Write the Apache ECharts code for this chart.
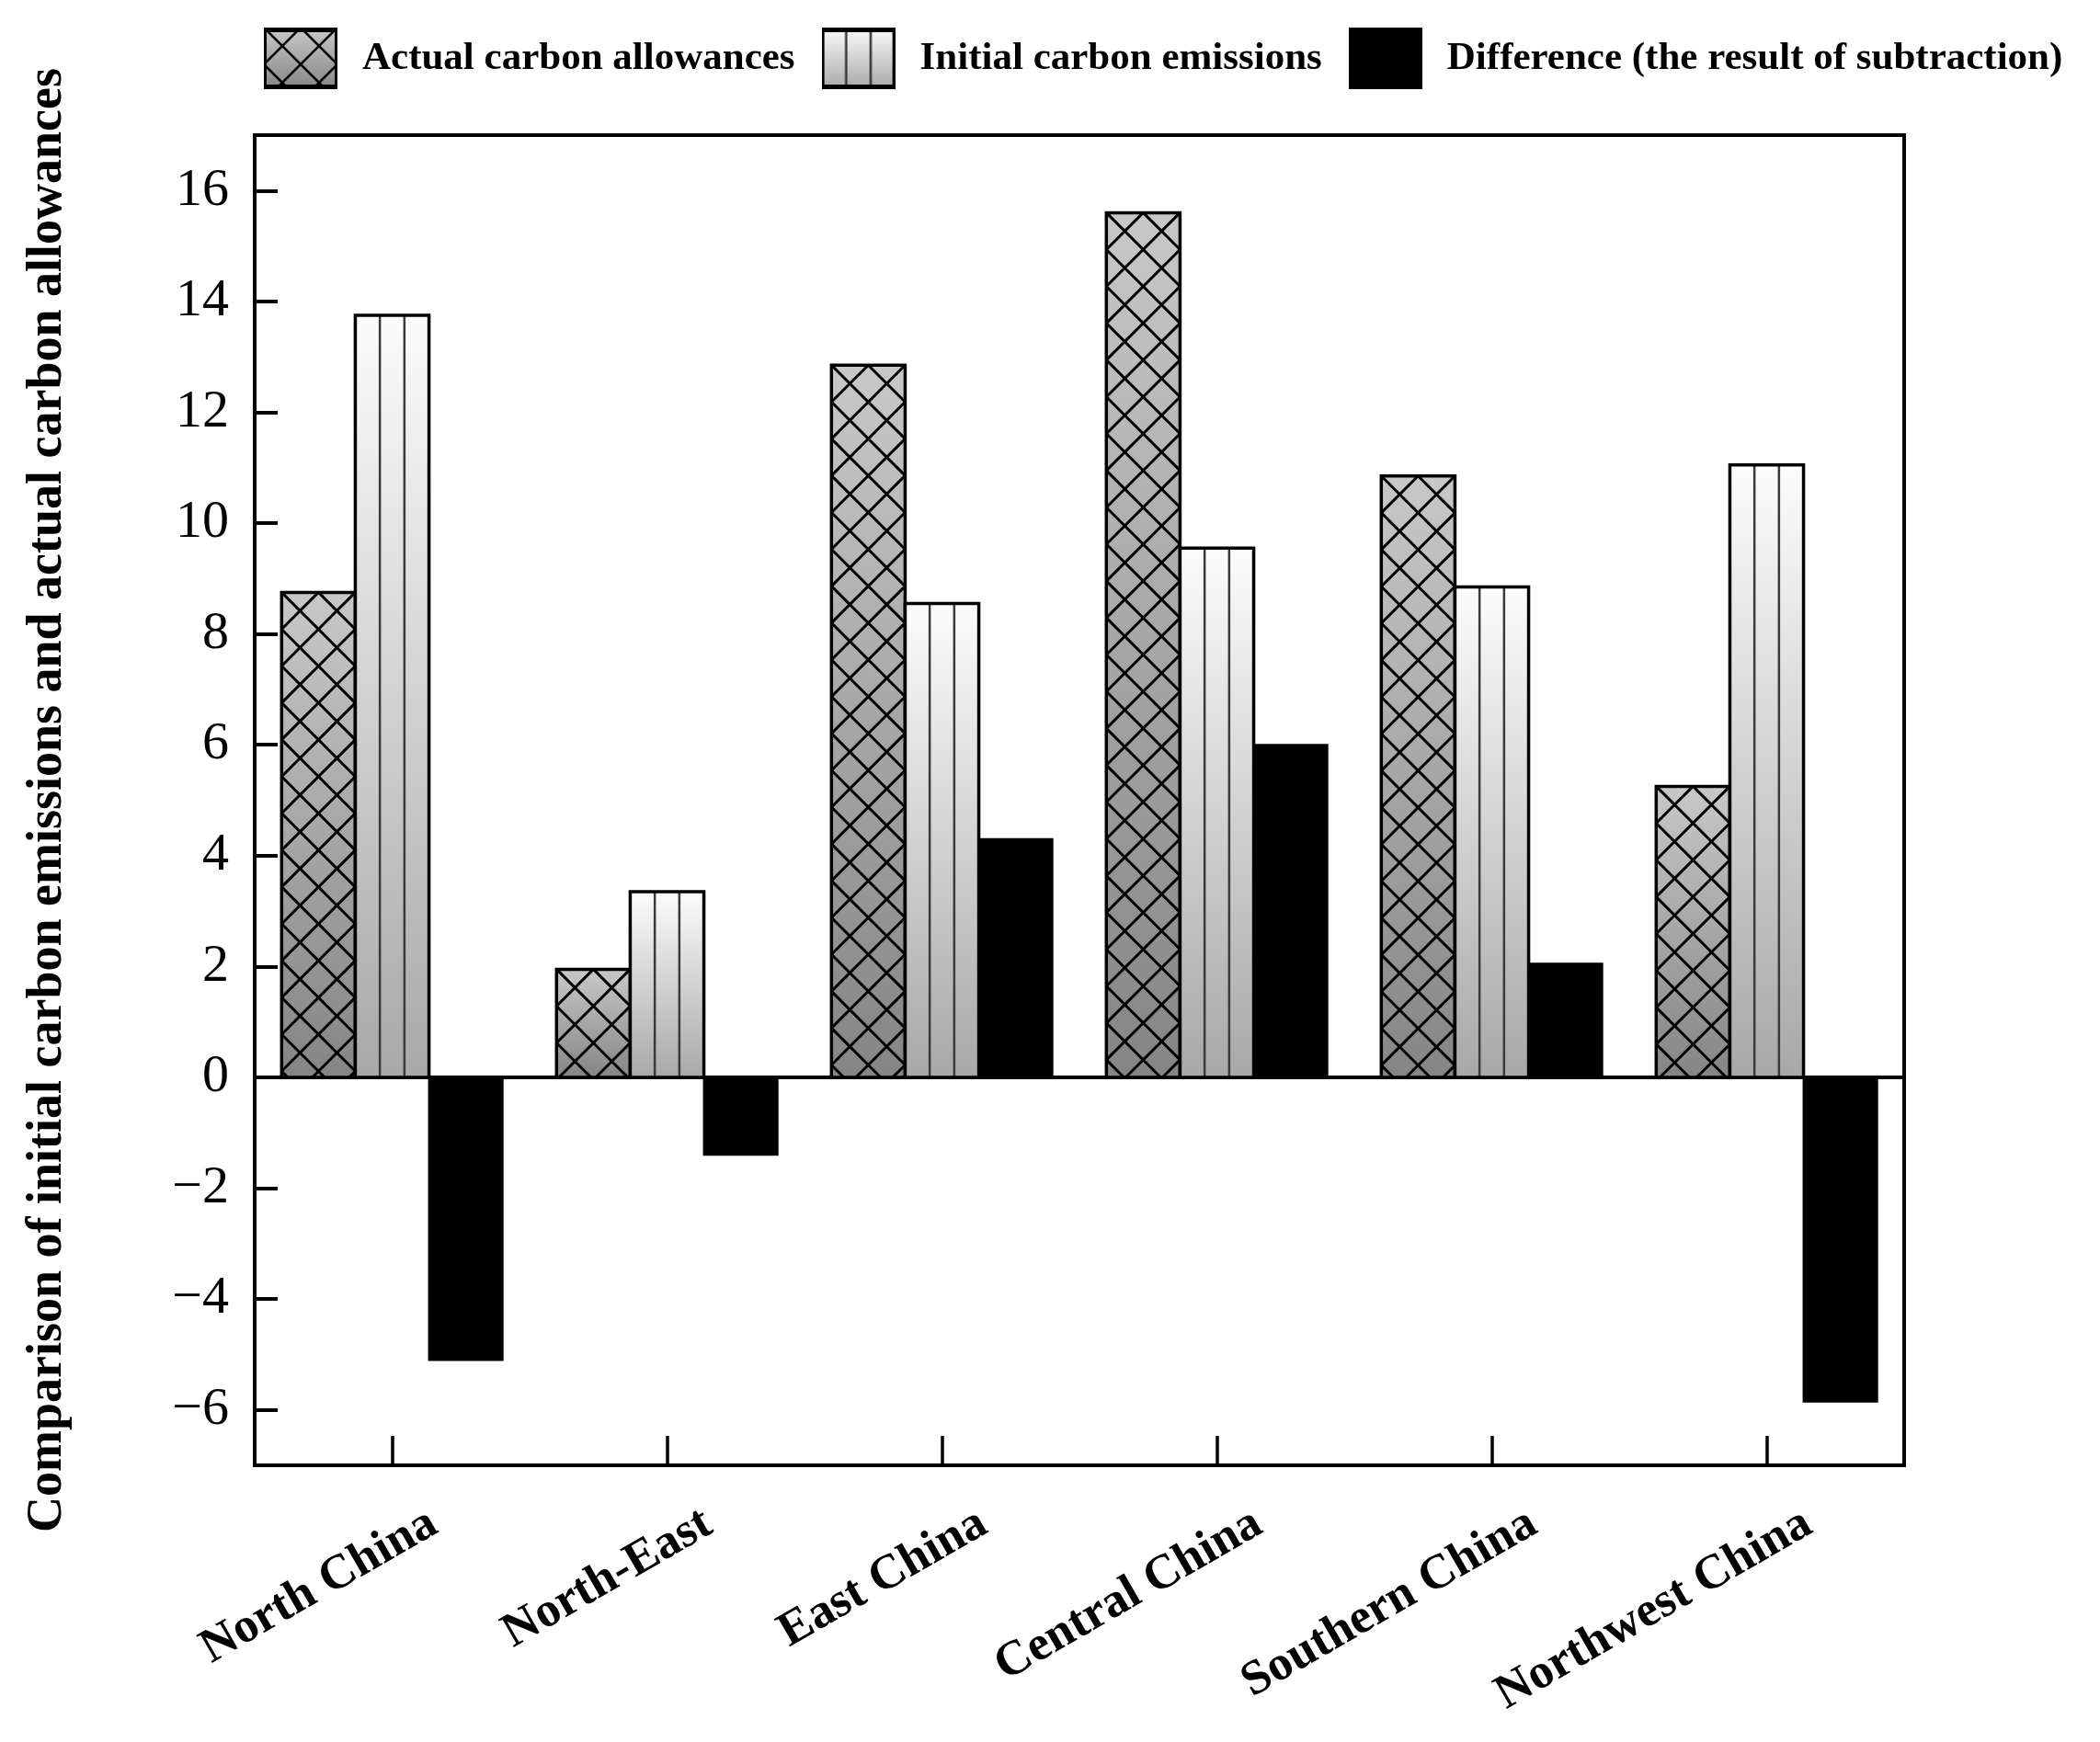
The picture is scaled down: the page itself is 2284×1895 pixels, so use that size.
<!DOCTYPE html>
<html>
<head>
<meta charset="utf-8">
<script src="https://cdn.jsdelivr.net/npm/echarts@6/dist/echarts.min.js"></script>
<style>
html,body{margin:0;padding:0;background:#fff;}
#chart{width:2284px;height:1895px;}
</style>
</head>
<body>
<div id="chart"></div>
<script>
// ---- data ----
const categories = ['North China', 'North-East', 'East China', 'Central China', 'Southern China', 'Northwest China'];
const actualAllowances = [8.75, 1.95, 12.85, 15.6, 10.85, 5.25];
const initialEmissions = [13.75, 3.35, 8.55, 9.55, 8.85, 11.05];
const differenceValues = [-5.1, -1.4, 4.3, 6.0, 2.05, -5.85];
const yTickValues = [-6, -4, -2, 0, 2, 4, 6, 8, 10, 12, 14, 16];
const seriesNames = ['Actual carbon allowances', 'Initial carbon emissions', 'Difference (the result of subtraction)'];
const yTitle = 'Comparison of initial carbon emissions and actual carbon allowances';

// ---- styles ----
const HATCH_TOP = '#c8c8c8', HATCH_BOTTOM = '#858585';
const LINES_TOP = '#fcfcfc', LINES_BOTTOM = '#a8a8a8';
const BAR_RATIO = 0.268;

function hatchSegments(x0, x1, yT, yB, d, cx) {
  const segs = [];
  const h = yB - yT;
  const kmax = Math.ceil((h + (x1 - x0)) / d) + 2;
  for (let k = -kmax; k <= kmax; k++) {
    const a = cx + k * d;
    let t0 = Math.max(0, x0 - a), t1 = Math.min(h, x1 - a);
    if (t1 > t0) segs.push([a + t0, yT + t0, a + t1, yT + t1]);
    t0 = Math.max(0, a - x1); t1 = Math.min(h, a - x0);
    if (t1 > t0) segs.push([a - t0, yT + t0, a - t1, yT + t1]);
  }
  return segs;
}

function makeIcon(kind) {
  const W = 80, H = 67;
  const c = document.createElement('canvas');
  c.width = W; c.height = H;
  const ctx = c.getContext('2d');
  if (kind === 2) {
    ctx.fillStyle = '#000'; ctx.fillRect(0, 0, W, H);
    return c.toDataURL();
  }
  const g = ctx.createLinearGradient(0, 0, 0, H);
  g.addColorStop(0, kind === 0 ? HATCH_TOP : LINES_TOP);
  g.addColorStop(1, kind === 0 ? HATCH_BOTTOM : LINES_BOTTOM);
  ctx.fillStyle = g; ctx.fillRect(0, 0, W, H);
  ctx.strokeStyle = '#000';
  if (kind === 0) {
    ctx.lineWidth = 2.5;
    hatchSegments(0, W, 0, H, W / 2, W / 2).forEach(s => {
      ctx.beginPath(); ctx.moveTo(s[0], s[1]); ctx.lineTo(s[2], s[3]); ctx.stroke();
    });
  } else {
    ctx.lineWidth = 2.5; ctx.strokeStyle = '#333';
    [W / 3, 2 * W / 3].forEach(x => { ctx.beginPath(); ctx.moveTo(x, 0); ctx.lineTo(x, H); ctx.stroke(); });
  }
  ctx.strokeStyle = '#000';
  ctx.lineWidth = 3;
  ctx.strokeRect(1.5, 1.5, W - 3, H - 3);
  ctx.fillStyle = '#000';
  ctx.fillRect(0, 0, W, 5); ctx.fillRect(0, H - 5, W, 5);
  return c.toDataURL();
}

function makeRender(slot) {
  return function (params, api) {
    const idx = api.value(0);
    const val = api.value(1);
    const base = api.coord([idx, 0]);
    const tip = api.coord([idx, val]);
    const band = api.size([1, 0])[0];
    const w = band * BAR_RATIO;
    const x0 = base[0] - 1.5 * w + slot * w;
    const x1 = x0 + w;
    const yT = Math.min(base[1], tip[1]);
    const yB = Math.max(base[1], tip[1]);
    const h = yB - yT;
    const children = [];
    if (slot === 2) {
      children.push({ type: 'rect', shape: { x: x0, y: yT, width: w, height: h }, style: { fill: '#000', stroke: '#000', lineWidth: 2 } });
      return { type: 'group', children: children };
    }
    const grad = new echarts.graphic.LinearGradient(0, 0, 0, 1, [
      { offset: 0, color: slot === 0 ? HATCH_TOP : LINES_TOP },
      { offset: 1, color: slot === 0 ? HATCH_BOTTOM : LINES_BOTTOM }
    ]);
    children.push({ type: 'rect', shape: { x: x0, y: yT, width: w, height: h }, style: { fill: grad } });
    if (slot === 0) {
      hatchSegments(x0, x1, yT, yB, w / 2, (x0 + x1) / 2).forEach(s => {
        children.push({ type: 'line', shape: { x1: s[0], y1: s[1], x2: s[2], y2: s[3] }, style: { stroke: '#000', lineWidth: 3 } });
      });
    } else {
      [x0 + w / 3, x0 + 2 * w / 3].forEach(x => {
        children.push({ type: 'line', shape: { x1: x, y1: yT, x2: x, y2: yB }, style: { stroke: '#3a3a3a', lineWidth: 2.5 } });
      });
    }
    children.push({ type: 'rect', shape: { x: x0, y: yT, width: w, height: h }, style: { fill: 'none', stroke: '#000', lineWidth: 3.5 } });
    return { type: 'group', children: children };
  };
}

const chart = echarts.init(document.getElementById('chart'), null, { renderer: 'canvas' });
const serifFont = '"Liberation Serif", "Times New Roman", serif';
const allSeries = [actualAllowances, initialEmissions, differenceValues];

const option = {
  backgroundColor: '#fff',
  animation: false,
  legend: {
    left: 287, top: 30, width: 1995, padding: 0,
    itemWidth: 80, itemHeight: 67, itemGap: 29,
    textStyle: { fontFamily: serifFont, fontWeight: 'bold', fontSize: 43, color: '#000', padding: [0, 0, 0, 22] },
    data: seriesNames.map((n, i) => ({ name: n, icon: 'image://' + makeIcon(i) }))
  },
  grid: { left: 277, right: 213, top: 147, bottom: 301, show: true, borderColor: '#000', borderWidth: 4, containLabel: false },
  xAxis: [
    {
      type: 'category', data: categories, position: 'bottom',
      axisLine: { onZero: false, lineStyle: { color: '#000', width: 4 } },
      axisTick: { show: true, inside: true, alignWithLabel: true, length: 32, lineStyle: { color: '#000', width: 3.5 } },
      axisLabel: { rotate: 30, margin: 86, padding: [0, -52, 0, 0], fontFamily: serifFont, fontWeight: 'bold', fontSize: 53, color: '#000', interval: 0 },
      splitLine: { show: false }
    },
    {
      type: 'category', data: categories, position: 'top',
      axisLine: { onZero: true, lineStyle: { color: '#000', width: 4 } },
      axisTick: { show: false }, axisLabel: { show: false }, splitLine: { show: false }
    }
  ],
  yAxis: {
    type: 'value', min: -7, max: 17, interval: 1,
    name: yTitle, nameLocation: 'middle', nameRotate: 90, nameGap: 198,
    nameTextStyle: { fontFamily: serifFont, fontWeight: 'bold', fontSize: 54, color: '#000' },
    axisLine: { show: true, lineStyle: { color: '#000', width: 4 } },
    axisTick: { show: true, inside: true, length: 25, lineStyle: { color: '#000', width: 4 }, customValues: yTickValues },
    axisLabel: {
      customValues: yTickValues, margin: 28, fontFamily: serifFont, fontSize: 58, color: '#000',
      formatter: v => (v < 0 ? '\u2212' + Math.abs(v) : String(v))
    },
    splitLine: { show: false }
  },
  series: allSeries.map((arr, s) => ({
    name: seriesNames[s],
    type: 'custom',
    xAxisIndex: 0,
    renderItem: makeRender(s),
    encode: { x: 0, y: 1 },
    itemStyle: { color: s === 0 ? '#a0a0a0' : (s === 1 ? '#dddddd' : '#000') },
    data: categories.map((c, i) => [i, arr[i]]),
    z: 3
  }))
};
chart.setOption(option);
</script>
</body>
</html>
